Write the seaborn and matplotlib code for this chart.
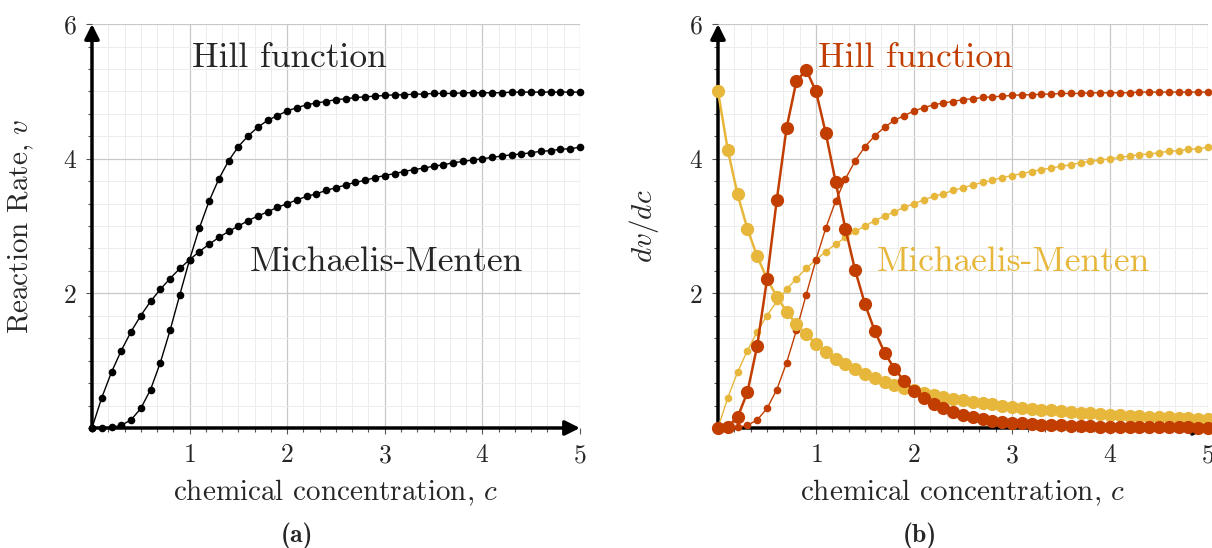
import numpy as np
import matplotlib
matplotlib.use("Agg")
import matplotlib.pyplot as plt
import seaborn as sns
from matplotlib.ticker import MultipleLocator

sns.set_style("white")
plt.rcParams['font.family'] = ['cmr10', 'DejaVu Serif']
plt.rcParams['mathtext.fontset'] = 'cm'
plt.rcParams['axes.unicode_minus'] = False
plt.rcParams['axes.formatter.use_mathtext'] = True

# chemical concentration c
conc = [0.0, 0.1, 0.2, 0.3, 0.4, 0.5, 0.6, 0.7, 0.8, 0.9,
        1.0, 1.1, 1.2, 1.3, 1.4, 1.5, 1.6, 1.7, 1.8, 1.9,
        2.0, 2.1, 2.2, 2.3, 2.4, 2.5, 2.6, 2.7, 2.8, 2.9,
        3.0, 3.1, 3.2, 3.3, 3.4, 3.5, 3.6, 3.7, 3.8, 3.9,
        4.0, 4.1, 4.2, 4.3, 4.4, 4.5, 4.6, 4.7, 4.8, 4.9, 5.0]

# Michaelis-Menten rate
mm_rate = [0.0, 0.45, 0.83, 1.15, 1.43, 1.67, 1.88, 2.06, 2.22, 2.37,
           2.50, 2.62, 2.73, 2.83, 2.92, 3.00, 3.08, 3.15, 3.21, 3.28,
           3.33, 3.39, 3.44, 3.48, 3.53, 3.57, 3.61, 3.65, 3.68, 3.72,
           3.75, 3.78, 3.81, 3.84, 3.86, 3.89, 3.91, 3.94, 3.96, 3.98,
           4.00, 4.02, 4.04, 4.06, 4.07, 4.09, 4.11, 4.12, 4.14, 4.15, 4.17]

# Hill rate
hill_rate = [0.0, 0.0005, 0.008, 0.04, 0.12, 0.29, 0.57, 0.97, 1.45, 1.98,
             2.50, 2.97, 3.37, 3.70, 3.97, 4.18, 4.34, 4.47, 4.57, 4.64,
             4.71, 4.76, 4.80, 4.83, 4.85, 4.88, 4.89, 4.91, 4.92, 4.93,
             4.94, 4.95, 4.95, 4.96, 4.96, 4.97, 4.97, 4.97, 4.98, 4.98,
             4.98, 4.98, 4.98, 4.99, 4.99, 4.99, 4.99, 4.99, 4.99, 4.99, 4.99]

# derivative dv/dc, Michaelis-Menten
mm_deriv = [5.00, 4.13, 3.47, 2.96, 2.55, 2.22, 1.95, 1.73, 1.54, 1.39,
            1.25, 1.13, 1.03, 0.95, 0.87, 0.80, 0.74, 0.69, 0.64, 0.60,
            0.56, 0.52, 0.49, 0.46, 0.43, 0.41, 0.39, 0.37, 0.35, 0.33,
            0.31, 0.30, 0.28, 0.27, 0.26, 0.25, 0.24, 0.23, 0.22, 0.21,
            0.20, 0.19, 0.18, 0.18, 0.17, 0.17, 0.16, 0.15, 0.15, 0.14, 0.14]

# derivative dv/dc, Hill
hill_deriv = [0.0, 0.02, 0.16, 0.53, 1.22, 2.21, 3.39, 4.46, 5.15, 5.32,
              5.00, 4.38, 3.66, 2.96, 2.34, 1.84, 1.44, 1.12, 0.88, 0.70,
              0.55, 0.44, 0.36, 0.29, 0.24, 0.19, 0.16, 0.13, 0.11, 0.095,
              0.080, 0.068, 0.059, 0.050, 0.043, 0.038, 0.033, 0.029, 0.025, 0.022,
              0.019, 0.017, 0.015, 0.014, 0.012, 0.011, 0.010, 0.009, 0.008, 0.007, 0.006]

orange = "#C23D00"
yellow = "#E7B73C"

fig = plt.figure(figsize=(12.12, 5.48), dpi=100)
ax1 = fig.add_axes([0.0759, 0.219, 0.4026, 0.737])
ax2 = fig.add_axes([0.5924, 0.219, 0.4043, 0.737])


def style_axes(ax):
    ax.set_xlim(0, 5)
    ax.set_ylim(0, 6)
    ax.xaxis.set_major_locator(MultipleLocator(1))
    ax.xaxis.set_minor_locator(MultipleLocator(1 / 6))
    ax.yaxis.set_major_locator(MultipleLocator(2))
    ax.yaxis.set_minor_locator(MultipleLocator(1 / 3))
    ax.set_xticks([1, 2, 3, 4, 5])
    ax.set_yticks([2, 4, 6])
    ax.grid(which='major', color='#c8c8c8', lw=0.9, zorder=0)
    ax.grid(which='minor', color='#ececec', lw=0.7, zorder=0)
    ax.set_axisbelow(True)
    for s in ax.spines.values():
        s.set_visible(False)
    ax.tick_params(which='both', direction='out', color='#555555', width=0.8,
                   bottom=True, left=True, labelsize=18.5)
    ax.tick_params(which='major', length=4)
    ax.tick_params(which='minor', length=3)
    ax.tick_params(axis='x', pad=7)
    ax.tick_params(axis='y', pad=7)
    ax.annotate('', xy=(5, 0), xytext=(0, 0), xycoords='data',
                arrowprops=dict(arrowstyle='-|>', lw=2.5, color='black',
                                mutation_scale=22, shrinkA=0, shrinkB=0),
                annotation_clip=False, zorder=2)
    ax.annotate('', xy=(0, 6), xytext=(0, 0), xycoords='data',
                arrowprops=dict(arrowstyle='-|>', lw=2.5, color='black',
                                mutation_scale=22, shrinkA=0, shrinkB=0),
                annotation_clip=False, zorder=2)
    ax.set_xlabel('chemical concentration, $c$', fontsize=21, labelpad=8)


# panel (a)
style_axes(ax1)
for vals in [mm_rate, hill_rate]:
    sns.lineplot(x=conc, y=vals, ax=ax1, color='black', lw=1.0, marker='o',
                 markersize=5.5, markeredgewidth=0, clip_on=False, zorder=5)
ax1.text(1.02, 5.5, 'Hill function', fontsize=25.5, va='center', ha='left')
ax1.text(1.62, 2.47, 'Michaelis-Menten', fontsize=25.5, va='center', ha='left')
ax1.set_ylabel('Reaction Rate, $v$', fontsize=21, labelpad=19)

# panel (b)
style_axes(ax2)
sns.lineplot(x=conc, y=mm_rate, ax=ax2, color=yellow, lw=1.0, marker='o',
             markersize=5.5, markeredgewidth=0, clip_on=False, zorder=5)
sns.lineplot(x=conc, y=hill_rate, ax=ax2, color=orange, lw=1.0, marker='o',
             markersize=5.5, markeredgewidth=0, clip_on=False, zorder=5)
sns.lineplot(x=conc, y=mm_deriv, ax=ax2, color=yellow, lw=1.8, marker='o',
             markersize=9.5, markeredgewidth=0, clip_on=False, zorder=6)
sns.lineplot(x=conc, y=hill_deriv, ax=ax2, color=orange, lw=1.8, marker='o',
             markersize=9.5, markeredgewidth=0, clip_on=False, zorder=7)
ax2.text(1.02, 5.5, 'Hill function', fontsize=25.5, va='center', ha='left', color=orange)
ax2.text(1.62, 2.47, 'Michaelis-Menten', fontsize=25.5, va='center', ha='left', color=yellow)
ax2.set_ylabel('$dv/dc$', fontsize=21, labelpad=20)

fig.text(0.245, -0.002, '(a)', fontsize=18.5, family='cmb10', ha='center', va='bottom')
fig.text(0.759, -0.002, '(b)', fontsize=18.5, family='cmb10', ha='center', va='bottom')

fig.savefig('out.png', dpi=100)
